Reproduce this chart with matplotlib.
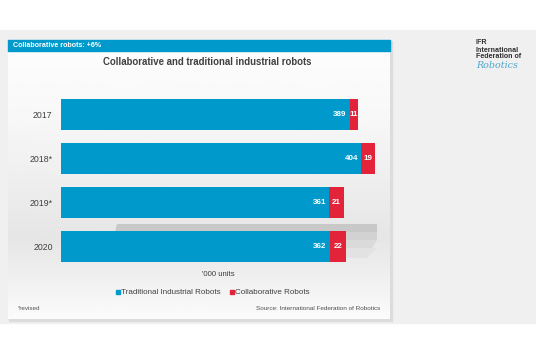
import matplotlib
matplotlib.use('Agg')
import matplotlib.pyplot as plt
import numpy as np
from matplotlib.patches import Rectangle, Polygon

# Data
years = ['2017', '2018*', '2019*', '2020']
traditional = [389, 404, 361, 362]
collaborative = [11, 19, 21, 22]

BLUE = '#0099cc'
RED = '#e2233a'
W, H = 536, 357

plt.rcParams['font.family'] = ['Liberation Sans', 'DejaVu Sans']

fig = plt.figure(figsize=(W / 100, H / 100), dpi=100)
fig.patch.set_facecolor('white')

# Background canvas in pixel coordinates
bg = fig.add_axes([0, 0, 1, 1])
bg.axis('off')

bg.add_patch(Rectangle((0, 30), W, 293, color='#f0f0f0', zorder=0))
# panel shadow + panel with vertical gradient
bg.add_patch(Rectangle((9, 41), 383, 280, color='#dcdcdc', zorder=1))
grad = np.interp(np.linspace(0, 1, 200), [0, 0.25, 0.7, 0.85, 1], [0.99, 0.97, 0.90, 0.94, 0.985])
bg.imshow(np.tile(grad[:, None], (1, 2)), cmap='gray', vmin=0, vmax=1,
          extent=(8, 390, 319, 50), aspect='auto', zorder=2, interpolation='bilinear')
bg.set_xlim(0, W)
bg.set_ylim(H, 0)

# header bar
bg.add_patch(Rectangle((8, 40), 382, 10.5, color=BLUE, zorder=3))
bg.text(13, 45.5, 'Collaborative robots: +6%', color='white', fontsize=5.1,
        fontweight='bold', va='center', ha='left', zorder=4)

bg.text(207, 62, 'Collaborative and traditional industrial robots', color='#404040',
        fontsize=6.9, fontweight='bold', va='center', ha='center', zorder=4)

# grey shadow streaks behind the lower bars
for y0, y1, c in [(224, 232, '#c8c8c8'), (232, 240, '#d2d2d2'), (240, 248, '#dadada'), (248, 258, '#e2e2e2')]:
    bg.add_patch(Polygon([(117 - (y0 - 224) * 0.3, y0), (377, y0), (377 - (y1 - 240) * 0.6 if y1 > 240 else 377, y1),
                          (117 - (y1 - 224) * 0.3, y1)], closed=True, color=c, lw=0, zorder=3))

# Bars
ax = fig.add_axes([61 / W, 1 - 268 / H, 329 / W, 175 / H])
ax.set_facecolor('none')
ax.set_xlim(0, 329 / 0.742)
ax.set_ylim(3.5, -0.5)
ypos = np.arange(len(years))
ax.barh(ypos, traditional, height=0.71, color=BLUE, zorder=3)
ax.barh(ypos, collaborative, left=traditional, height=0.71, color=RED, zorder=3)
for i in range(len(years)):
    ax.text(traditional[i] - 4, ypos[i], str(traditional[i]), color='white', fontsize=5.8,
            fontweight='bold', ha='right', va='center', zorder=4)
    ax.text(traditional[i] + collaborative[i] / 2, ypos[i], str(collaborative[i]), color='white',
            fontsize=5.8, fontweight='bold', ha='center', va='center', zorder=4)
ax.set_yticks(ypos)
ax.set_yticklabels(years, fontsize=6.3, color='#404040')
ax.tick_params(axis='y', length=0, pad=6)
ax.set_xticks([])
for s in ax.spines.values():
    s.set_visible(False)

# Units, legend, footnotes
bg.text(218, 274, "'000 units", color='#404040', fontsize=5.6, ha='center', va='center', zorder=4)
bg.add_patch(Rectangle((115.5, 289.5), 4, 4, color=BLUE, zorder=4))
bg.text(121, 292, 'Traditional Industrial Robots', color='#404040', fontsize=5.8, ha='left', va='center', zorder=4)
bg.add_patch(Rectangle((230, 289.5), 4, 4, color=RED, zorder=4))
bg.text(235, 292, 'Collaborative Robots', color='#404040', fontsize=5.8, ha='left', va='center', zorder=4)
bg.text(18, 309, '*revised', color='#505050', fontsize=4.5, ha='left', va='center', zorder=4)
bg.text(380, 309, 'Source: International Federation of Robotics', color='#505050', fontsize=4.6,
        ha='right', va='center', zorder=4)

# IFR logo text
for yy, t in [(43, 'IFR'), (50, 'International'), (57, 'Federation of')]:
    bg.text(476, yy, t, fontsize=5.1, fontweight='bold', color='#303030', ha='left', va='center', zorder=4)
bg.text(476, 65, 'Robotics', fontsize=6.8, style='italic', color='#4aa8cf', ha='left', va='center',
        family='DejaVu Serif', zorder=4)

fig.savefig('out.png', dpi=100)
